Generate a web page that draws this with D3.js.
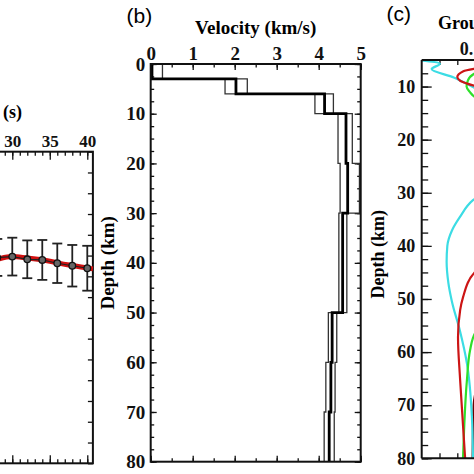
<!DOCTYPE html>
<html><head><meta charset="utf-8">
<script src="https://cdn.jsdelivr.net/npm/d3@7"></script>
<style>body{margin:0;background:#fff}svg{display:block}</style>
</head><body><svg id="c" width="474" height="474"></svg>
<script>
// ---------- Panel (a): dispersion curve ----------
const periods   = [28, 30, 32, 34, 36, 38, 40];
const groupVel  = [3.491, 3.495, 3.482, 3.479, 3.463, 3.451, 3.439];
const groupErr  = [0.089, 0.091, 0.091, 0.096, 0.095, 0.100, 0.108];
const modelPeriods = [27, 28, 30, 32, 34, 36, 38, 40, 40.75];
const modelVel     = [3.470, 3.482, 3.495, 3.488, 3.480, 3.465, 3.452, 3.440, 3.436];
const periodTicks  = [30, 35, 40];

// ---------- Panel (b): velocity model ----------
const layerTop = [0, 3, 6, 10, 20, 30, 50, 60, 70];
const layerBottom = 80;
const vsModel  = [0.03, 2.03, 4.14, 4.65, 4.69, 4.57, 4.32, 4.29, 4.25];
const vsMin    = [0.00, 1.77, 3.91, 4.46, 4.51, 4.48, 4.23, 4.17, 4.13];
const vsMax    = [0.28, 2.30, 4.35, 4.80, 4.97, 4.67, 4.43, 4.39, 4.37];
const velTicks = [0, 1, 2, 3, 4, 5];
const depthTicks = [0, 10, 20, 30, 40, 50, 60, 70, 80];

// ---------- Panel (c): sensitivity kernels [value, depth] ----------
const kernelCyan = [[0,5.1],[0.051,5.7],[0.028,6.7],[0.09,8.3],[0.136,9.8],[0.2,12],[0.3,18],[0.3,26],[0.144,31.4],[0.107,34.6],[0.085,37.1],[0.072,40],[0.07,43],[0.075,47],[0.085,50.5],[0.107,55.9],[0.127,62.1],[0.141,72.2],[0.144,80]];
const kernelRed = [[0.3,5],[0.16,6.5],[0.117,7.1],[0.1,8.2],[0.108,8.9],[0.126,9.4],[0.15,9.9],[0.3,12],[0.4,25],[0.3,40],[0.15,44.9],[0.116,49.7],[0.108,52.1],[0.102,57.2],[0.108,65.3],[0.122,80]];
const kernelGreen = [[0.3,6],[0.15,7.5],[0.13,8.8],[0.126,10],[0.135,11],[0.15,12],[0.3,15],[0.4,30],[0.3,50],[0.15,56.4],[0.136,59.6],[0.127,65.3],[0.119,74.7],[0.116,80]];
const kernelMaroon = [[0.3,60],[0.16,66],[0.146,70],[0.144,75],[0.143,80]];
const kernelDepthTicks = [10, 20, 30, 40, 50, 60, 70, 80];

const svg = d3.select("#c");
const serif = "'Liberation Serif','Times New Roman',serif";
const sans = "'Liberation Sans',Arial,sans-serif";

function styleAxis(g, fs) {
  g.select(".domain").remove();
  g.selectAll(".tick line").attr("stroke", "#111").attr("stroke-width", 1.3);
  g.selectAll(".tick text").attr("font-family", serif).attr("font-weight", "bold")
    .attr("font-size", fs).attr("fill", "#111");
}

// ================= Panel (a) =================
{
  const x = d3.scaleLinear().domain([0, 40.75]).range([87.3 - 40 * 7.5, 92.9]);
  const y = d3.scaleLinear().domain([2.5, 4.0]).range([463.3, 151.7]);
  const g = svg.append("g");
  const minorP = d3.range(1, 41, 1);
  const vt = d3.range(2.5, 4.001, 0.1);

  g.append("g").attr("transform", `translate(0,${y(4.0)})`)
    .call(d3.axisTop(x).tickValues(minorP).tickSize(-4).tickFormat(""))
    .call(a => styleAxis(a, 17));
  g.append("g").attr("transform", `translate(0,${y(4.0)})`)
    .call(d3.axisTop(x).tickValues(periodTicks).tickSize(-8).tickPadding(5).tickFormat(d3.format("d")))
    .call(a => styleAxis(a, 17));
  g.append("g").attr("transform", `translate(0,${y(2.5)})`)
    .call(d3.axisBottom(x).tickValues(minorP).tickSize(-4).tickFormat(""))
    .call(a => styleAxis(a, 17));
  g.append("g").attr("transform", `translate(0,${y(2.5)})`)
    .call(d3.axisBottom(x).tickValues(periodTicks).tickSize(-8).tickFormat(""))
    .call(a => styleAxis(a, 17));
  g.append("g").attr("transform", `translate(${x(40.75)},0)`)
    .call(d3.axisRight(y).tickValues(vt).tickSize(-5).tickFormat(""))
    .call(a => styleAxis(a, 17));

  g.append("rect").attr("x", x(0)).attr("y", y(4.0))
    .attr("width", x(40.75) - x(0)).attr("height", y(2.5) - y(4.0))
    .attr("fill", "none").attr("stroke", "#111").attr("stroke-width", 2);

  g.append("text").attr("x", 22).attr("y", 118).attr("text-anchor", "end")
    .attr("font-family", serif).attr("font-weight", "bold").attr("font-size", 18)
    .text("Period (s)");

  const model = modelPeriods.map((p, i) => [p, modelVel[i]]);
  g.append("path").datum(model)
    .attr("d", d3.line().x(d => x(d[0])).y(d => y(d[1])).curve(d3.curveMonotoneX))
    .attr("fill", "none").attr("stroke", "#d01010").attr("stroke-width", 5);

  const obs = periods.map((p, i) => ({p, v: groupVel[i], e: groupErr[i]}));
  g.append("path").datum(obs)
    .attr("d", d3.line().x(d => x(d.p)).y(d => y(d.v)))
    .attr("fill", "none").attr("stroke", "#222").attr("stroke-width", 1.2);
  const eb = g.append("g").attr("stroke", "#222").attr("stroke-width", 1.8);
  obs.forEach(d => {
    eb.append("line").attr("x1", x(d.p)).attr("x2", x(d.p)).attr("y1", y(d.v + d.e)).attr("y2", y(d.v - d.e));
    eb.append("line").attr("x1", x(d.p) - 5).attr("x2", x(d.p) + 5).attr("y1", y(d.v + d.e)).attr("y2", y(d.v + d.e));
    eb.append("line").attr("x1", x(d.p) - 5).attr("x2", x(d.p) + 5).attr("y1", y(d.v - d.e)).attr("y2", y(d.v - d.e));
  });
  g.selectAll("circle.pt").data(obs).join("circle").attr("class", "pt")
    .attr("cx", d => x(d.p)).attr("cy", d => y(d.v)).attr("r", 3.3)
    .attr("fill", "#666").attr("stroke", "#111").attr("stroke-width", 1.3);
}

// ================= Panel (b) =================
{
  const x = d3.scaleLinear().domain([0, 5]).range([150.7, 360.7]);
  const y = d3.scaleLinear().domain([0, 80]).range([64, 461.7]);
  const g = svg.append("g");
  const minorV = d3.range(0, 5.001, 0.5);
  const minorD = d3.range(0, 80.001, 2.5);

  g.append("g").attr("transform", `translate(0,${y(0)})`)
    .call(d3.axisTop(x).tickValues(minorV).tickSize(-3.5).tickFormat(""))
    .call(a => styleAxis(a, 19));
  g.append("g").attr("transform", `translate(0,${y(0)})`)
    .call(d3.axisTop(x).tickValues(velTicks).tickSize(-6).tickPadding(4.5).tickFormat(d3.format("d")))
    .call(a => styleAxis(a, 19));
  g.append("g").attr("transform", `translate(0,${y(80)})`)
    .call(d3.axisBottom(x).tickValues(minorV).tickSize(-3.5).tickFormat(""))
    .call(a => styleAxis(a, 19));
  g.append("g").attr("transform", `translate(0,${y(80)})`)
    .call(d3.axisBottom(x).tickValues(velTicks).tickSize(-6).tickFormat(""))
    .call(a => styleAxis(a, 19));
  g.append("g").attr("transform", `translate(${x(0)},0)`)
    .call(d3.axisLeft(y).tickValues(minorD).tickSize(-3.5).tickFormat(""))
    .call(a => styleAxis(a, 19));
  g.append("g").attr("transform", `translate(${x(0)},0)`)
    .call(d3.axisLeft(y).tickValues(depthTicks).tickSize(-6).tickPadding(5.5).tickFormat(d3.format("d")))
    .call(a => styleAxis(a, 19));
  g.append("g").attr("transform", `translate(${x(5)},0)`)
    .call(d3.axisRight(y).tickValues(minorD).tickSize(-3.5).tickFormat(""))
    .call(a => styleAxis(a, 19));
  g.append("g").attr("transform", `translate(${x(5)},0)`)
    .call(d3.axisRight(y).tickValues(depthTicks).tickSize(-6).tickFormat(""))
    .call(a => styleAxis(a, 19));

  function steps(vals) {
    const pts = [];
    vals.forEach((v, i) => {
      const top = layerTop[i];
      const bot = i + 1 < layerTop.length ? layerTop[i + 1] : layerBottom;
      pts.push([v, top], [v, bot]);
    });
    return pts;
  }
  const line = d3.line().x(d => x(d[0])).y(d => y(d[1]));
  g.append("path").datum(steps(vsMin)).attr("d", line)
    .attr("fill", "none").attr("stroke", "#333").attr("stroke-width", 1.3);
  g.append("path").datum(steps(vsMax)).attr("d", line)
    .attr("fill", "none").attr("stroke", "#333").attr("stroke-width", 1.3);
  g.append("path").datum(steps(vsModel)).attr("d", line)
    .attr("fill", "none").attr("stroke", "#000").attr("stroke-width", 2.8);

  g.append("rect").attr("x", x(0)).attr("y", y(0))
    .attr("width", x(5) - x(0)).attr("height", y(80) - y(0))
    .attr("fill", "none").attr("stroke", "#111").attr("stroke-width", 2);

  g.append("text").attr("x", (x(0) + x(5)) / 2).attr("y", 34).attr("text-anchor", "middle")
    .attr("font-family", serif).attr("font-weight", "bold").attr("font-size", 19)
    .text("Velocity (km/s)");
  g.append("text").attr("transform", `translate(113.5,${(y(0) + y(80)) / 2}) rotate(-90)`)
    .attr("text-anchor", "middle")
    .attr("font-family", serif).attr("font-weight", "bold").attr("font-size", 19)
    .text("Depth (km)");
  g.append("text").attr("x", 126.5).attr("y", 22.5)
    .attr("font-family", sans).attr("font-size", 21).text("(b)");
}

// ================= Panel (c) =================
{
  const x = d3.scaleLinear().domain([0, 0.15]).range([421.7, 421.7 + 0.15 * 356]);
  const y = d3.scaleLinear().domain([5, 80]).range([60, 458.3]);
  const g = svg.append("g");
  const minorD = d3.range(5, 80.001, 2.5);
  const minorX = [0.05, 0.1];

  svg.append("defs").append("clipPath").attr("id", "clipc")
    .append("rect").attr("x", x(0)).attr("y", y(5)).attr("width", 200).attr("height", y(80) - y(5));

  g.append("g").attr("transform", `translate(0,${y(5)})`)
    .call(d3.axisTop(x).tickValues(minorX).tickSize(-5).tickFormat(""))
    .call(a => styleAxis(a, 18));
  g.append("g").attr("transform", `translate(0,${y(5)})`)
    .call(d3.axisTop(x).tickValues([0.15]).tickSize(-8).tickPadding(5).tickFormat(d3.format(".2f")))
    .call(a => styleAxis(a, 18));
  g.append("g").attr("transform", `translate(0,${y(80)})`)
    .call(d3.axisBottom(x).tickValues(minorX).tickSize(-5).tickFormat(""))
    .call(a => styleAxis(a, 18));
  g.append("g").attr("transform", `translate(${x(0)},0)`)
    .call(d3.axisLeft(y).tickValues(minorD).tickSize(-6.5).tickFormat(""))
    .call(a => styleAxis(a, 18));
  g.append("g").attr("transform", `translate(${x(0)},0)`)
    .call(d3.axisLeft(y).tickValues(kernelDepthTicks).tickSize(-10).tickPadding(6.5).tickFormat(d3.format("d")))
    .call(a => styleAxis(a, 18));

  const line = d3.line().x(d => x(d[0])).y(d => y(d[1])).curve(d3.curveMonotoneY);
  const cg = g.append("g").attr("clip-path", "url(#clipc)");
  [[kernelMaroon, "#6a0000"], [kernelCyan, "#3cdce4"], [kernelGreen, "#2fe02a"], [kernelRed, "#cc1515"]]
    .forEach(([data, col]) => {
      cg.append("path").datum(data).attr("d", line)
        .attr("fill", "none").attr("stroke", col).attr("stroke-width", 2.2);
    });

  g.append("line").attr("x1", x(0)).attr("x2", x(0)).attr("y1", y(5)).attr("y2", y(80))
    .attr("stroke", "#111").attr("stroke-width", 2);
  g.append("line").attr("x1", x(0)).attr("x2", 480).attr("y1", y(5)).attr("y2", y(5))
    .attr("stroke", "#111").attr("stroke-width", 2);
  g.append("line").attr("x1", x(0)).attr("x2", 480).attr("y1", y(80)).attr("y2", y(80))
    .attr("stroke", "#111").attr("stroke-width", 2);

  g.append("text").attr("x", 438).attr("y", 29)
    .attr("font-family", serif).attr("font-weight", "bold").attr("font-size", 18)
    .text("Group velocity sensitivity kernel");
  g.append("text").attr("transform", `translate(384,${(y(5) + y(80)) / 2 - 5}) rotate(-90)`)
    .attr("text-anchor", "middle")
    .attr("font-family", serif).attr("font-weight", "bold").attr("font-size", 18)
    .text("Depth (km)");
  g.append("text").attr("x", 386.5).attr("y", 20.5)
    .attr("font-family", sans).attr("font-size", 21).text("(c)");
}
</script></body></html>
